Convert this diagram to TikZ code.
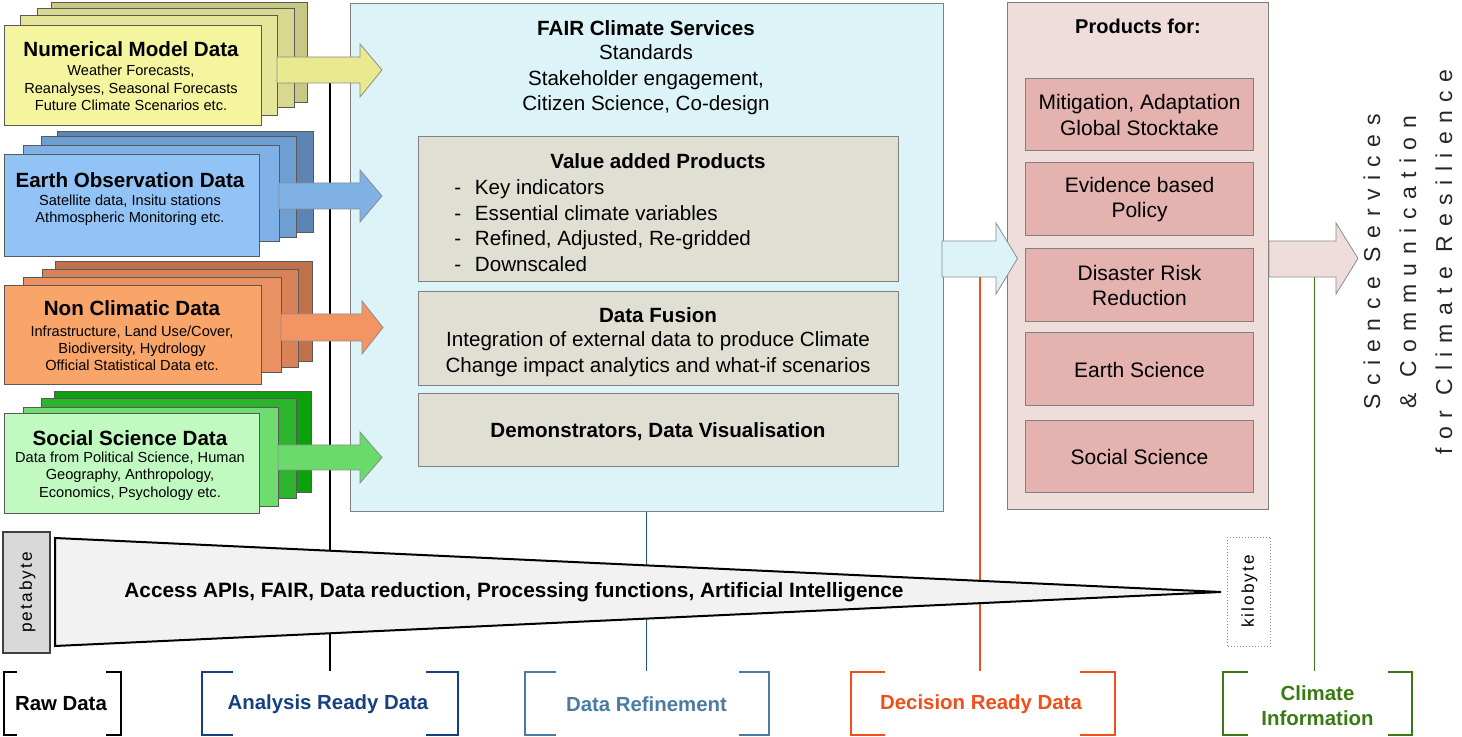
\documentclass[tikz,border=0pt]{standalone}
\usepackage{fontspec}
\setmainfont{Liberation Sans}
\newfontfamily\spacedfont[LetterSpace=37]{Liberation Sans}
\newfontfamily\bytefont[LetterSpace=12]{Liberation Sans}
\definecolor{yF}{HTML}{F5F5A0}\definecolor{yB}{HTML}{E6E69A}\definecolor{yC}{HTML}{D8D890}\definecolor{yD}{HTML}{C8C884}\definecolor{yA}{HTML}{E9E98F}
\definecolor{bF}{HTML}{92C3F7}\definecolor{bB}{HTML}{7FB0E6}\definecolor{bC}{HTML}{6F9ED3}\definecolor{bD}{HTML}{5E84B3}\definecolor{bA}{HTML}{80B2E6}
\definecolor{oF}{HTML}{F9A468}\definecolor{oB}{HTML}{E99162}\definecolor{oC}{HTML}{D98258}\definecolor{oD}{HTML}{C1724B}\definecolor{oA}{HTML}{F29563}
\definecolor{gF}{HTML}{C0FAC0}\definecolor{gB}{HTML}{6EDC6E}\definecolor{gC}{HTML}{2CB42C}\definecolor{gD}{HTML}{0CA00C}\definecolor{gA}{HTML}{6ADB6A}
\definecolor{fairbg}{HTML}{DCF3F8}\definecolor{beige}{HTML}{DFDFD3}\definecolor{prodbg}{HTML}{EFDDDC}\definecolor{prodin}{HTML}{E4B2AF}
\definecolor{tri}{HTML}{F2F2F2}\definecolor{peta}{HTML}{D9D9D9}
\definecolor{navy}{HTML}{16407F}\definecolor{steel}{HTML}{4A7CA3}\definecolor{orng}{HTML}{F04E1A}\definecolor{grn}{HTML}{3A7A14}\definecolor{lineblue}{HTML}{1F4F80}
\tikzset{
  lay/.style={draw=black!65, line width=0.5pt},
  blk/.style={draw=black!45, line width=0.4pt},
  bx/.style={draw=black!50, line width=0.5pt, inner sep=0pt},
  ttl/.style={inner sep=0pt, font=\bfseries\fontsize{10.3}{12.4}\selectfont},
  sub/.style={inner sep=0pt, align=center, font=\fontsize{7.3}{8.65}\selectfont},
  midtxt/.style={inner sep=0pt, align=center, font=\fontsize{10.3}{12.75}\selectfont},
  midb/.style={inner sep=0pt, font=\bfseries\fontsize{10.3}{12.75}\selectfont},
  prodtxt/.style={bx, fill=prodin, minimum width=113.85pt, align=center, font=\fontsize{10.5}{12.85}\selectfont},
  brk/.style={line width=1pt},
  lbl/.style={inner sep=0pt, align=center, font=\bfseries\fontsize{10.2}{12.5}\selectfont},
  vline/.style={line width=0.75pt},
}
\begin{document}
\begin{tikzpicture}[x=0.5pt,y=-0.5pt]
\useasboundingbox (0,0) rectangle (1462,737);

% ---- connector coordinates
\coordinate (nmArrowBot) at (330,83);
\coordinate (ardTop) at (330,671);
\coordinate (refTop) at (646.5,671);
\coordinate (drdTop) at (980,671);
\coordinate (ciTop) at (1314.5,671);
\coordinate (fpArrowBot) at (980,277);
\coordinate (outArrowBot) at (1314.5,277);

% ---- vertical lines (behind everything)
\draw[vline, black] (nmArrowBot) -- (ardTop);
\draw[vline, orng] (fpArrowBot) -- (drdTop);
\draw[vline, grn] (outArrowBot) -- (ciTop);

% ---- central FAIR box
\node[bx, fill=fairbg, minimum width=296.5pt, minimum height=254pt] (fair) at (646.5,258) {};
\draw[vline, lineblue] (fair.south) -- (refTop);
\node[midb] (fairT) at (646,28) {FAIR Climate Services};
\node[midtxt] (fairS) at (646,80) {Standards\\Stakeholder engagement,\\Citizen Science, Co-design};

\node[bx, fill=beige, minimum width=240pt, minimum height=72.5pt] (vap) at (658,209.5) {};
\node[midb] (vapT) at (658,161) {Value added Products};
\node[midtxt, align=left, anchor=west] (vapL) at (454,225.5) {\makebox[10.3pt][l]{-}Key indicators\\\makebox[10.3pt][l]{-}Essential climate variables\\\makebox[10.3pt][l]{-}Refined, Adjusted, Re-gridded\\\makebox[10.3pt][l]{-}Downscaled};

\node[bx, fill=beige, minimum width=240pt, minimum height=47pt] (fus) at (658,339) {};
\node[midb] (fusT) at (658,315) {Data Fusion};
\node[midtxt] (fusS) at (658,354.3) {Integration of external data to produce Climate\\Change impact analytics and what-if scenarios};

\node[bx, fill=beige, minimum width=240pt, minimum height=36.5pt] (demo) at (658,430.5) {};
\node[midb] (demoT) at (658,432) {Demonstrators, Data Visualisation};

% ---- products box
\node[bx, fill=prodbg, minimum width=130.5pt, minimum height=253.5pt] (prod) at (1137.5,256.5) {};
\node[midb, font=\bfseries\fontsize{10}{12}\selectfont] (prodT) at (1138,26) {Products for:};
\node[prodtxt, minimum height=36pt] (p1) at (1139.5,115) {Mitigation, Adaptation\\Global Stocktake};
\node[prodtxt, minimum height=36.5pt] (p2) at (1139.5,199.5) {Evidence based\\Policy};
\node[prodtxt, minimum height=36.5pt] (p3) at (1139.5,285.5) {Disaster Risk\\Reduction};
\node[prodtxt, minimum height=36.5pt] (p4) at (1139.5,369.5) {Earth Science};
\node[prodtxt, minimum height=36pt] (p5) at (1139.5,457) {Social Science};

% ---- arrows between central boxes
\draw[blk, fill=fairbg] (942,241) -- (996,241) -- (996,223) -- (1017.5,258.5) -- (996,294) -- (996,277) -- (942,277) -- cycle;
\draw[blk, fill=prodbg] (1269,241) -- (1336,241) -- (1336,223) -- (1358,258.5) -- (1336,294) -- (1336,277) -- (1269,277) -- cycle;

% ---- data stacks
\draw[lay, fill=yD] (51,3) rectangle (307,103);
\draw[lay, fill=yC] (37,9) rectangle (294,108);
\draw[lay, fill=yB] (20,16) rectangle (277,116);
\draw[lay, fill=yF] (4,26) rectangle (261,126);
\node[ttl] (nmT) at (131,49) {Numerical Model Data};
\node[sub] (nmS) at (131,88) {Weather Forecasts,\\Reanalyses, Seasonal Forecasts\\Future Climate Scenarios etc.};

\draw[lay, fill=bD] (57,132) rectangle (313,233);
\draw[lay, fill=bC] (41,137) rectangle (296,238);
\draw[lay, fill=bB] (23,146) rectangle (279,242);
\draw[lay, fill=bF] (4,155) rectangle (259,257);
\node[ttl] (eoT) at (130,180) {Earth Observation Data};
\node[sub] (eoS) at (130,210.5) {Satellite data, Insitu stations\\Athmospheric Monitoring etc.};

\draw[lay, fill=oD] (55,262) rectangle (312,362);
\draw[lay, fill=oC] (42,270) rectangle (298,368);
\draw[lay, fill=oB] (23,278) rectangle (281,373);
\draw[lay, fill=oF] (4,286) rectangle (261,385);
\node[ttl] (ncT) at (132,308.3) {Non Climatic Data};
\node[sub] (ncS) at (132,348.3) {Infrastructure, Land Use/Cover,\\Biodiversity, Hydrology\\Official Statistical Data etc.};

\draw[lay, fill=gD] (54,392) rectangle (311,493);
\draw[lay, fill=gC] (41,399) rectangle (296,499);
\draw[lay, fill=gB] (23,408) rectangle (278,507);
\draw[lay, fill=gF] (4,414) rectangle (259,514);
\node[ttl] (ssT) at (130,437.7) {Social Science Data};
\node[sub] (ssS) at (130,476.2) {Data from Political Science, Human\\Geography, Anthropology,\\Economics, Psychology etc.};

% ---- input arrows
\draw[blk, fill=yA] (277,57) -- (360,57) -- (360,44) -- (382,70) -- (360,97) -- (360,83) -- (277,83) -- cycle;
\draw[blk, fill=bA] (279,183) -- (360,183) -- (360,170) -- (382,196) -- (360,222) -- (360,209) -- (279,209) -- cycle;
\draw[blk, fill=oA] (281,314) -- (362,314) -- (362,301) -- (383,327.5) -- (362,354) -- (362,341) -- (281,341) -- cycle;
\draw[blk, fill=gA] (278,445) -- (360,445) -- (360,432) -- (382,457.5) -- (360,483) -- (360,470) -- (278,470) -- cycle;

% ---- data reduction wedge
\draw[line width=1pt, fill=tri] (55,538) -- (1221,592) -- (55,646) -- cycle;
\node[inner sep=0pt, font=\bfseries\fontsize{10.4}{12.5}\selectfont] (wedgeT) at (514,592) {Access APIs, FAIR, Data reduction, Processing functions, Artificial Intelligence};
\node[draw=black!75, line width=0.8pt, fill=peta, minimum width=23.5pt, minimum height=60.5pt, inner sep=0pt] (peta) at (26.5,592.5) {};
\node[rotate=90, inner sep=0pt, font=\bytefont\fontsize{8.6}{10}\selectfont] (petaT) at (27.5,592.5) {petabyte};
\node[draw=black!45, densely dotted, line width=0.5pt, minimum width=21.5pt, minimum height=54.5pt, inner sep=0pt] (kilo) at (1249,591.5) {};
\node[rotate=90, inner sep=0pt, font=\bytefont\fontsize{8.6}{10}\selectfont] (kiloT) at (1249.5,591.5) {kilobyte};

% ---- right-hand statement
\node[rotate=90, align=center, inner sep=0pt, text=black!85, font=\spacedfont\fontsize{11.5}{18}\selectfont] (sci) at (1408,262) {Science Services\\\& Communication\\for Climate Resilience};

% ---- brackets and stage labels
\draw[brk, black] (17,672) -- (3.5,672) -- (3.5,735) -- (17,735);
\draw[brk, black] (106,672) -- (121,672) -- (121,735) -- (106,735);
\node[lbl] (raw) at (61,704) {Raw Data};

\draw[brk, navy] (233,672) -- (202,672) -- (202,735) -- (233,735);
\draw[brk, navy] (426,672) -- (458,672) -- (458,735) -- (426,735);
\node[lbl, text=navy] (ard) at (328,704) {Analysis Ready Data};

\draw[brk, steel] (556,672) -- (525,672) -- (525,735) -- (556,735);
\draw[brk, steel] (739,672) -- (769,672) -- (769,735) -- (739,735);
\node[lbl, text=steel] (dref) at (646.5,704.5) {Data Refinement};

\draw[brk, orng] (885,672) -- (851,672) -- (851,735) -- (885,735);
\draw[brk, orng] (1080,672) -- (1114.5,672) -- (1114.5,735) -- (1080,735);
\node[lbl, text=orng] (drd) at (981,704) {Decision Ready Data};

\draw[brk, grn] (1248,672) -- (1222.5,672) -- (1222.5,735) -- (1248,735);
\draw[brk, grn] (1388,672) -- (1412,672) -- (1412,735) -- (1388,735);
\node[lbl, text=grn] (ci) at (1317.5,705.5) {Climate\\Information};
\end{tikzpicture}
\end{document}
